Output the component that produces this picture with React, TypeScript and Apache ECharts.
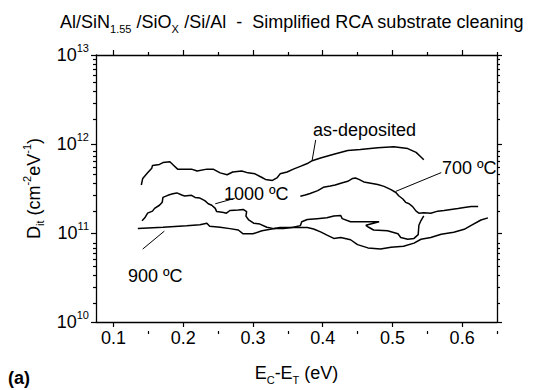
import { useEffect, useRef } from "react";
import * as echarts from "echarts";

const FONT = '"Liberation Sans", Arial, sans-serif';

// ---- data (E_C - E_T in eV, D_it in cm^-2 eV^-1) ----
const asDepX = [0.140, 0.142, 0.149, 0.155, 0.156, 0.166, 0.171, 0.181, 0.185, 0.192, 0.202, 0.212, 0.220, 0.234, 0.243, 0.253, 0.263, 0.271, 0.284, 0.293, 0.303, 0.313, 0.318, 0.328, 0.335, 0.339, 0.349, 0.358, 0.368, 0.378, 0.385, 0.397, 0.416, 0.436, 0.454, 0.479, 0.502, 0.522, 0.534, 0.541, 0.545];
const asDepY = [3.46e11, 4.10e11, 4.74e11, 5.35e11, 5.75e11, 5.89e11, 6.18e11, 6.33e11, 5.89e11, 5.22e11, 5.22e11, 5.22e11, 4.97e11, 5.22e11, 5.22e11, 4.74e11, 4.51e11, 4.85e11, 4.97e11, 4.74e11, 4.62e11, 4.20e11, 4.00e11, 3.90e11, 4.20e11, 4.62e11, 4.85e11, 5.22e11, 5.61e11, 6.03e11, 6.49e11, 6.97e11, 7.68e11, 8.46e11, 8.67e11, 9.10e11, 9.32e11, 8.88e11, 8.06e11, 7.14e11, 6.64e11];

const c700X = [0.368, 0.375, 0.382, 0.393, 0.401, 0.411, 0.418, 0.426, 0.436, 0.443, 0.447, 0.452, 0.459, 0.469, 0.479, 0.488, 0.498, 0.505, 0.509, 0.515, 0.519, 0.524, 0.529, 0.534, 0.538, 0.545, 0.555, 0.565, 0.574, 0.584, 0.594, 0.603, 0.613, 0.623];
const c700Y = [2.59e11, 2.67e11, 2.78e11, 2.99e11, 3.26e11, 3.37e11, 3.46e11, 3.63e11, 3.81e11, 4.10e11, 4.15e11, 4.00e11, 3.75e11, 3.63e11, 3.50e11, 3.34e11, 3.07e11, 2.85e11, 2.62e11, 2.41e11, 2.21e11, 2.13e11, 1.98e11, 1.76e11, 1.67e11, 1.69e11, 1.67e11, 1.76e11, 1.79e11, 1.84e11, 1.89e11, 1.94e11, 1.98e11, 1.98e11];

const c1000X = [0.141, 0.145, 0.149, 0.156, 0.159, 0.166, 0.170, 0.171, 0.178, 0.185, 0.191, 0.198, 0.202, 0.212, 0.217, 0.224, 0.231, 0.236, 0.241, 0.246, 0.248, 0.258, 0.262, 0.267, 0.279, 0.286, 0.291, 0.290, 0.294, 0.301, 0.310, 0.320, 0.330, 0.344, 0.358, 0.368, 0.370, 0.378, 0.392, 0.406, 0.416, 0.426, 0.428, 0.440, 0.454, 0.469, 0.481, 0.462, 0.466, 0.473, 0.493, 0.508, 0.512, 0.522, 0.531, 0.537, 0.538, 0.541, 0.545];
const c1000Y = [1.37e11, 1.48e11, 1.67e11, 1.76e11, 1.89e11, 2.05e11, 2.22e11, 2.51e11, 2.65e11, 2.76e11, 2.82e11, 2.67e11, 2.61e11, 2.65e11, 2.51e11, 2.47e11, 2.31e11, 2.13e11, 2.05e11, 1.89e11, 1.74e11, 1.70e11, 1.67e11, 1.79e11, 1.81e11, 1.84e11, 1.74e11, 1.55e11, 1.40e11, 1.29e11, 1.26e11, 1.16e11, 1.12e11, 1.12e11, 1.16e11, 1.21e11, 1.34e11, 1.42e11, 1.45e11, 1.48e11, 1.55e11, 1.57e11, 1.45e11, 1.34e11, 1.34e11, 1.34e11, 1.34e11, 1.22e11, 1.16e11, 1.08e11, 1.06e11, 9.8e10, 8.9e10, 8.5e10, 8.7e10, 9.6e10, 1.22e11, 1.38e11, 1.56e11];

const c900X = [0.135, 0.171, 0.205, 0.224, 0.234, 0.238, 0.253, 0.267, 0.279, 0.286, 0.300, 0.313, 0.325, 0.339, 0.358, 0.378, 0.387, 0.397, 0.407, 0.416, 0.426, 0.440, 0.450, 0.465, 0.483, 0.498, 0.516, 0.531, 0.541, 0.555, 0.570, 0.588, 0.603, 0.613, 0.627, 0.637];
const c900Y = [1.12e11, 1.16e11, 1.21e11, 1.24e11, 1.29e11, 1.19e11, 1.16e11, 1.12e11, 1.08e11, 9.8e10, 9.8e10, 1.06e11, 1.10e11, 1.15e11, 1.15e11, 1.15e11, 1.11e11, 1.03e11, 9.4e10, 8.7e10, 8.9e10, 8.4e10, 7.4e10, 6.8e10, 6.6e10, 6.9e10, 7.1e10, 7.7e10, 8.5e10, 8.9e10, 9.7e10, 1.02e11, 1.10e11, 1.22e11, 1.40e11, 1.48e11];

// annotation arrows [from, to] in data coordinates
const arrowAsDep = [[0.390, 1.11e12], [0.385, 6.6e11]];
const arrow700 = [[0.570, 4.77e11], [0.505, 2.94e11]];
const arrow1000 = [[0.274, 2.45e11], [0.246, 2.13e11]];
const arrow900 = [[0.142, 6.6e10], [0.173, 1.05e11]];

const annoTexts = ["as-deposited", "700 \u00baC", "1000 \u00baC", "900 \u00baC"];

// axis ticks
const xMajorTicks = [0.1, 0.2, 0.3, 0.4, 0.5, 0.6];
const xMinorTicks = [0.15, 0.25, 0.35, 0.45, 0.55, 0.65];
const yMinorTicks = [2e10, 3e10, 4e10, 5e10, 6e10, 7e10, 8e10, 9e10, 2e11, 3e11, 4e11, 5e11, 6e11, 7e11, 8e11, 9e11, 2e12, 3e12, 4e12, 5e12, 6e12, 7e12, 8e12, 9e12];

const pairs = (xs: number[], ys: number[]) => xs.map((x, i) => [x, ys[i]]);

const arrowMark = (a: number[][]) => ({
  silent: true,
  symbol: ["none", "arrow"],
  symbolSize: [0, 7],
  lineStyle: { color: "#000", width: 1, type: "solid" },
  label: { show: false },
  emphasis: { disabled: true },
  data: [[{ coord: a[0] }, { coord: a[1] }]],
});

const richBase = (size: number) => ({
  m: { fontSize: size, fontFamily: FONT, color: "#000", lineHeight: 24 },
  s: { fontSize: Math.round(size * 0.6), fontFamily: FONT, color: "#000", lineHeight: 10, verticalAlign: "bottom" },
  p: { fontSize: Math.round(size * 0.6), fontFamily: FONT, color: "#000", lineHeight: 10, verticalAlign: "top" },
});

export default function App() {
  const ref = useRef<HTMLDivElement>(null);
  useEffect(() => {
    if (!ref.current) return;
    const chart = echarts.init(ref.current, undefined, { renderer: "svg" });
    const axisLine = { show: true, onZero: false, lineStyle: { color: "#000", width: 1.3 } };
    const tickStyle = { color: "#000", width: 1.2 };
    const xBase = { type: "value", min: 0.075, max: 0.65, splitLine: { show: false } };
    const yLogBase = { type: "log", logBase: 10, min: 1e10, max: 1e13, splitLine: { show: false }, minorTick: { show: false } };
    const yMinorBase = { type: "value", min: 10, max: 13, splitLine: { show: false } };
    const seriesLine = { type: "line", showSymbol: false, symbol: "none", silent: true, lineStyle: { color: "#000", width: 1.5 }, xAxisIndex: 0, yAxisIndex: 0 };

    chart.setOption({
      animation: false,
      backgroundColor: "#fff",
      grid: [
        { left: 96, right: 49, top: 55, bottom: 59, containLabel: false },
        { left: 96, right: 49, top: 55, bottom: 59, containLabel: false },
      ],
      xAxis: [
        {
          ...xBase, gridIndex: 0, position: "bottom", axisLine,
          axisTick: { show: true, customValues: xMajorTicks, length: 5, lineStyle: tickStyle },
          axisLabel: { customValues: xMajorTicks, formatter: (v: number) => v.toFixed(1), fontSize: 18, fontFamily: FONT, color: "#000", margin: 7 },
          name: "{m|E}{s|C}{m|-E}{s|T}{m| (eV)}",
          nameLocation: "middle", nameGap: 39,
          nameTextStyle: { rich: richBase(18) },
        },
        {
          ...xBase, gridIndex: 0, position: "top", axisLine,
          axisTick: { show: true, customValues: xMajorTicks, length: 5, lineStyle: tickStyle },
          axisLabel: { show: false },
        },
        {
          ...xBase, gridIndex: 1, position: "bottom", axisLine: { show: false },
          axisTick: { show: true, customValues: xMinorTicks, length: 3, lineStyle: tickStyle },
          axisLabel: { show: false },
        },
        {
          ...xBase, gridIndex: 1, position: "top", axisLine: { show: false },
          axisTick: { show: true, customValues: xMinorTicks, length: 3, lineStyle: tickStyle },
          axisLabel: { show: false },
        },
      ],
      yAxis: [
        {
          ...yLogBase, gridIndex: 0, position: "left", axisLine,
          axisTick: { show: true, length: 5, lineStyle: tickStyle },
          axisLabel: {
            formatter: (v: number) => `{b|10}{p|${Math.round(Math.log10(v))}}`,
            margin: 7,
            rich: {
              b: { fontSize: 18, fontFamily: FONT, color: "#000", lineHeight: 26 },
              p: { fontSize: 11, fontFamily: FONT, color: "#000", lineHeight: 11, verticalAlign: "top" },
            },
          },
          name: "{m|D}{s|it}{m| (cm}{p|-2}{m|eV}{p|-1}{m|)}",
          nameLocation: "middle", nameRotate: 90, nameGap: 34,
          nameTextStyle: { rich: richBase(18) },
        },
        {
          ...yLogBase, gridIndex: 0, position: "right", axisLine,
          axisTick: { show: true, length: 5, lineStyle: tickStyle },
          axisLabel: { show: false },
        },
        {
          ...yMinorBase, gridIndex: 1, position: "left", axisLine: { show: false },
          axisTick: { show: true, customValues: yMinorTicks.map(Math.log10), length: 3, lineStyle: tickStyle },
          axisLabel: { show: false },
        },
        {
          ...yMinorBase, gridIndex: 1, position: "right", axisLine: { show: false },
          axisTick: { show: true, customValues: yMinorTicks.map(Math.log10), length: 3, lineStyle: tickStyle },
          axisLabel: { show: false },
        },
      ],
      series: [
        { ...seriesLine, name: "as-deposited", data: pairs(asDepX, asDepY), markLine: arrowMark(arrowAsDep) },
        { ...seriesLine, name: "700", data: pairs(c700X, c700Y), markLine: arrowMark(arrow700) },
        { ...seriesLine, name: "1000", data: pairs(c1000X, c1000Y), markLine: arrowMark(arrow1000) },
        { ...seriesLine, name: "900", data: pairs(c900X, c900Y), markLine: arrowMark(arrow900) },
      ],
      graphic: [
        {
          type: "text", x: 292, y: 22, silent: true,
          style: {
            text: "{m|Al/SiN}{s|1.55}{m| /SiO}{s|X}{m| /Si/Al  -  Simplified RCA substrate cleaning}",
            align: "center", verticalAlign: "middle",
            rich: richBase(18),
          },
        },
        { type: "text", x: 313, y: 130, silent: true, style: { text: annoTexts[0], fontSize: 18, fontFamily: FONT, fill: "#000", verticalAlign: "middle" } },
        { type: "text", x: 442, y: 168, silent: true, style: { text: annoTexts[1], fontSize: 18, fontFamily: FONT, fill: "#000", verticalAlign: "middle" } },
        { type: "text", x: 224, y: 194, silent: true, style: { text: annoTexts[2], fontSize: 18, fontFamily: FONT, fill: "#000", verticalAlign: "middle" } },
        { type: "text", x: 128, y: 276, silent: true, style: { text: annoTexts[3], fontSize: 18, fontFamily: FONT, fill: "#000", verticalAlign: "middle" } },
        { type: "text", x: 8, y: 378, silent: true, style: { text: "(a)", fontSize: 18, fontWeight: "bold", fontFamily: FONT, fill: "#000", verticalAlign: "middle" } },
      ],
    });
    return () => chart.dispose();
  }, []);
  return <div ref={ref} style={{ width: 546, height: 390, position: "absolute", left: 0, top: 0 }} />;
}
